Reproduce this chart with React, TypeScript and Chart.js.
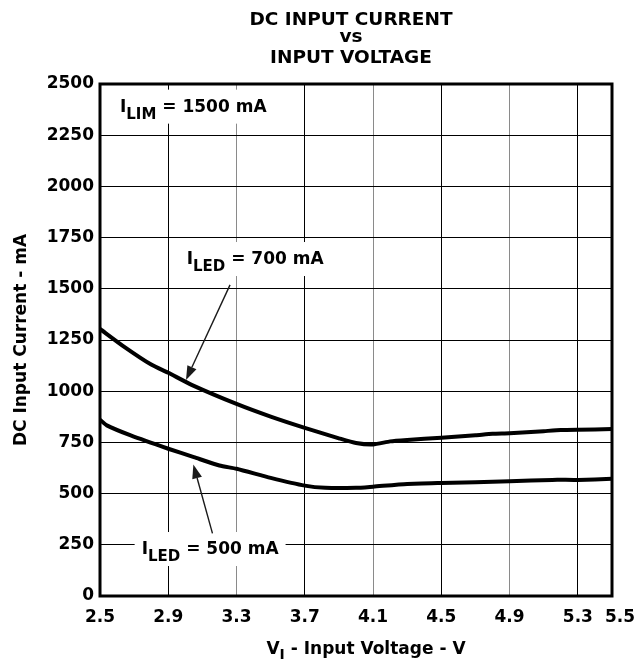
import { useEffect, useRef } from "react";
import { Chart, registerables } from "chart.js";

Chart.register(...registerables);

// ---- data ----
const voltage700 = [2.5, 2.64, 2.8, 2.9, 3.04, 3.3, 3.5, 3.7, 3.9, 4.0, 4.1, 4.2, 4.3, 4.5, 4.7, 4.8, 4.9, 5.1, 5.2, 5.3, 5.5];
const current700 = [1304, 1218, 1130, 1090, 1030, 938, 876, 821, 770, 747, 740, 755, 762, 773, 785, 792, 795, 805, 810, 812, 815];
const voltage500 = [2.5, 2.54, 2.68, 2.9, 3.05, 3.2, 3.3, 3.5, 3.7, 3.82, 4.0, 4.1, 4.3, 4.5, 4.9, 5.15, 5.3, 5.5];
const current500 = [861, 833, 784, 719, 678, 637, 621, 577, 539, 528, 528, 534, 547, 552, 560, 567, 567, 572];
const xTicks = [2.5, 2.9, 3.3, 3.7, 4.1, 4.5, 4.9, 5.3, 5.5];
const xTickLabels = ["2.5", "2.9", "3.3", "3.7", "4.1", "4.5", "4.9", "5.3", "5.5"];
const yTicks = [0, 250, 500, 750, 1000, 1250, 1500, 1750, 2000, 2250, 2500];
const grayGridAt = [3.3, 4.1, 4.9];
const titleLines = ["DC INPUT CURRENT", "vs", "INPUT VOLTAGE"];
const yTitle = "DC Input Current - mA";
const xTitleMain = "V";
const xTitleSub = "I";
const xTitleRest = " - Input Voltage - V";

// annotations (positions in data units)
const labelMain = ["I", "I", "I"];
const labelSub = ["LIM", "LED", "LED"];
const labelRest = [" = 1500 mA", " = 700 mA", " = 500 mA"];
const labelV = [2.617, 3.008, 2.744];
const labelI = [2365, 1621, 205];
const arrowFrom = [[3.262, 1519], [3.159, 306]];
const arrowTo = [[3.004, 1055], [3.047, 642]];

const FONT = "'DejaVu Sans', sans-serif";

type Part = { t: string; s: number; dy: number };

function richParts(main: string, sub: string, rest: string, size: number, subSize: number): Part[] {
  return [
    { t: main, s: size, dy: 0 },
    { t: sub, s: subSize, dy: 7 },
    { t: rest, s: size, dy: 0 },
  ];
}

function measureParts(ctx: CanvasRenderingContext2D, parts: Part[]) {
  let w = 0;
  for (const p of parts) {
    ctx.font = `bold ${p.s}px ${FONT}`;
    w += ctx.measureText(p.t).width;
  }
  return w;
}

function drawParts(ctx: CanvasRenderingContext2D, parts: Part[], x: number, y: number) {
  let cx = x;
  ctx.textAlign = "left";
  ctx.textBaseline = "alphabetic";
  for (const p of parts) {
    ctx.font = `bold ${p.s}px ${FONT}`;
    ctx.fillText(p.t, cx, y + p.dy);
    cx += ctx.measureText(p.t).width;
  }
}

const decorPlugin = {
  id: "decor",
  beforeDatasetsDraw(chart: any) {
    const ctx = chart.ctx as CanvasRenderingContext2D;
    const xs = chart.scales.x;
    const ys = chart.scales.y;
    ctx.save();
    for (let i = 0; i < labelMain.length; i++) {
      const parts = richParts(labelMain[i], labelSub[i], labelRest[i], 17, 15);
      const w = measureParts(ctx, parts);
      const px = xs.getPixelForValue(labelV[i]);
      const py = ys.getPixelForValue(labelI[i]);
      ctx.fillStyle = "#fff";
      ctx.fillRect(px - 7, py - 22, w + 14, 34);
    }
    ctx.restore();
  },
  afterDraw(chart: any) {
    const ctx = chart.ctx as CanvasRenderingContext2D;
    const xs = chart.scales.x;
    const ys = chart.scales.y;
    const a = chart.chartArea;
    ctx.save();
    // frame
    ctx.strokeStyle = "#000";
    ctx.lineWidth = 3;
    ctx.strokeRect(a.left, a.top, a.right - a.left, a.bottom - a.top);

    ctx.fillStyle = "#000";
    // x tick labels
    ctx.font = `bold 17px ${FONT}`;
    ctx.textAlign = "center";
    ctx.textBaseline = "middle";
    xTicks.forEach((v, i) => {
      const extra = i === xTicks.length - 1 ? 8 : 0;
      ctx.fillText(xTickLabels[i], xs.getPixelForValue(v) + extra, a.bottom + 22);
    });
    // labels
    for (let i = 0; i < labelMain.length; i++) {
      const parts = richParts(labelMain[i], labelSub[i], labelRest[i], 17, 15);
      drawParts(ctx, parts, xs.getPixelForValue(labelV[i]), ys.getPixelForValue(labelI[i]));
    }
    // arrows
    for (let i = 0; i < arrowFrom.length; i++) {
      const x1 = xs.getPixelForValue(arrowFrom[i][0]);
      const y1 = ys.getPixelForValue(arrowFrom[i][1]);
      const x2 = xs.getPixelForValue(arrowTo[i][0]);
      const y2 = ys.getPixelForValue(arrowTo[i][1]);
      const ang = Math.atan2(y2 - y1, x2 - x1);
      const L = 14, H = 5;
      const bx = x2 - L * Math.cos(ang);
      const by = y2 - L * Math.sin(ang);
      ctx.strokeStyle = "#1a1a1a";
      ctx.lineWidth = 1.4;
      ctx.beginPath();
      ctx.moveTo(x1, y1);
      ctx.lineTo(bx, by);
      ctx.stroke();
      ctx.beginPath();
      ctx.moveTo(x2, y2);
      ctx.lineTo(bx + H * Math.sin(ang), by - H * Math.cos(ang));
      ctx.lineTo(bx - H * Math.sin(ang), by + H * Math.cos(ang));
      ctx.closePath();
      ctx.fillStyle = "#1a1a1a";
      ctx.fill();
    }
    // main title
    ctx.fillStyle = "#000";
    ctx.textAlign = "center";
    ctx.textBaseline = "alphabetic";
    ctx.font = `bold 18.5px ${FONT}`;
    const cx = (a.left + a.right) / 2 - 5;
    const baselines = [25, 42, 63];
    titleLines.forEach((t, i) => ctx.fillText(t, cx, baselines[i]));
    // x axis title
    const xParts: Part[] = [
      { t: xTitleMain, s: 17, dy: 0 },
      { t: xTitleSub, s: 14, dy: 5 },
      { t: xTitleRest, s: 17, dy: 0 },
    ];
    const w = measureParts(ctx, xParts);
    drawParts(ctx, xParts, (a.left + a.right) / 2 + 10 - w / 2, 654);
    ctx.restore();
  },
};

export default function App() {
  const ref = useRef<HTMLCanvasElement | null>(null);
  useEffect(() => {
    if (!ref.current) return;
    const chart = new Chart(ref.current, {
      type: "line",
      data: {
        datasets: [
          {
            label: "ILED = 700 mA",
            data: voltage700.map((v, i) => ({ x: v, y: current700[i] })),
            borderColor: "#000",
            borderWidth: 4,
            pointRadius: 0,
            tension: 0.2,
            fill: false,
          },
          {
            label: "ILED = 500 mA",
            data: voltage500.map((v, i) => ({ x: v, y: current500[i] })),
            borderColor: "#000",
            borderWidth: 4,
            pointRadius: 0,
            tension: 0.2,
            fill: false,
          },
        ],
      },
      options: {
        animation: false,
        responsive: true,
        maintainAspectRatio: false,
        layout: { padding: { top: 84, right: 24, left: 0, bottom: 0 } },
        plugins: {
          legend: { display: false },
          title: { display: false },
          tooltip: { enabled: false },
        },
        scales: {
          x: {
            type: "linear",
            min: 2.5,
            max: 5.5,
            afterBuildTicks: (s: any) => {
              s.ticks = xTicks.map((v) => ({ value: v }));
            },
            afterFit: (s: any) => {
              s.height = 68;
              s.paddingLeft = 0;
              s.paddingRight = 0;
            },
            ticks: { display: false, autoSkip: false, maxRotation: 0, minRotation: 0 },
            grid: {
              drawTicks: false,
              lineWidth: 1,
              color: (c: any) => (grayGridAt.includes(c.tick?.value) ? "#8a8a8a" : "#000"),
            },
            border: { display: false },
          },
          y: {
            min: 0,
            max: 2500,
            afterBuildTicks: (s: any) => {
              s.ticks = yTicks.map((v) => ({ value: v }));
            },
            afterFit: (s: any) => {
              s.width = 100;
            },
            ticks: {
              padding: 6,
              color: "#000",
              font: { family: FONT, weight: "bold", size: 17 },
              callback: (v: any) => String(v),
            },
            grid: { drawTicks: false, lineWidth: 1, color: "#000" },
            border: { display: false },
            title: {
              display: true,
              text: yTitle,
              color: "#000",
              font: { family: FONT, weight: "bold", size: 17 },
              padding: { top: 11, bottom: 0 },
            },
          },
        },
      },
      plugins: [decorPlugin],
    } as any);
    return () => chart.destroy();
  }, []);
  return (
    <div style={{ position: "absolute", left: 0, top: 0, width: 636, height: 664, background: "#fff" }}>
      <canvas ref={ref} />
    </div>
  );
}
